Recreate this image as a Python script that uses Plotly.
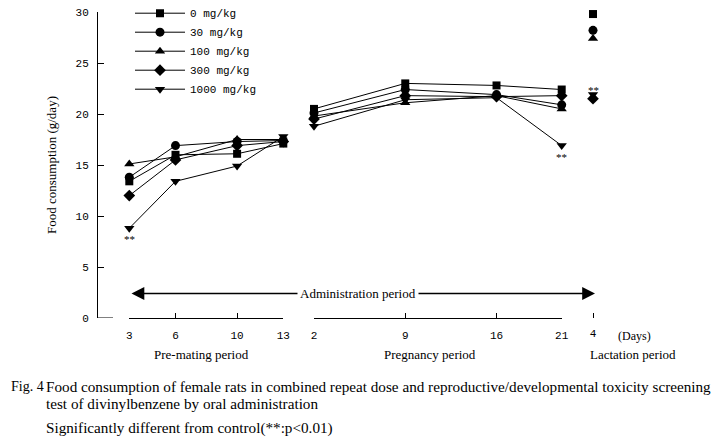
import plotly.graph_objects as go

# ---- data ----
doses = ["0 mg/kg", "30 mg/kg", "100 mg/kg", "300 mg/kg", "1000 mg/kg"]
symbols = ["square", "circle", "triangle-up", "diamond", "triangle-down"]
marker_sizes = [8, 9, 9, 9, 9]

premating_days = [3, 6, 10, 13]
pregnancy_days = [2, 9, 16, 21]
lactation_days = [4]

pre_0 = [13.4, 16.0, 16.1, 17.1]
pre_30 = [13.8, 16.9, 17.3, 17.4]
pre_100 = [15.1, 15.8, 17.5, 17.5]
pre_300 = [12.0, 15.5, 16.9, 17.3]
pre_1000 = [8.8, 13.4, 14.9, 17.8]

preg_0 = [20.5, 23.0, 22.8, 22.4]
preg_30 = [20.1, 22.4, 21.9, 20.9]
preg_100 = [19.8, 21.1, 21.8, 20.5]
preg_300 = [19.5, 21.8, 21.7, 21.8]
preg_1000 = [18.8, 21.4, 21.6, 16.9]

lact_0 = [29.8]
lact_30 = [28.2]
lact_100 = [27.4]
lact_300 = [21.5]
lact_1000 = [21.9]

y_ticks = [0, 5, 10, 15, 20, 25, 30]

pre_series = [pre_0, pre_30, pre_100, pre_300, pre_1000]
preg_series = [preg_0, preg_30, preg_100, preg_300, preg_1000]
lact_series = [lact_0, lact_30, lact_100, lact_300, lact_1000]

# ---- figure geometry (page has an 8px body offset) ----
OFF = 8
W, H = 727, 440
ML, MT = 89, 4
PW, PH = 603, 306
MR = W - ML - PW
MB = H - MT - PH


def px(xs):
    return (xs - OFF - ML) / PW


def py(ys):
    return (MT + PH - (ys - OFF)) / PH


fig = go.Figure()
for i, name in enumerate(doses):
    for xs, ys, ax, show in [
        (premating_days, pre_series[i], "x", True),
        (pregnancy_days, preg_series[i], "x2", False),
        (lactation_days, lact_series[i], "x3", False),
    ]:
        fig.add_trace(go.Scatter(
            x=xs, y=ys, xaxis=ax, yaxis="y",
            mode="lines+markers", name=name, legendgroup=name, showlegend=show,
            line=dict(color="black", width=1),
            marker=dict(symbol=symbols[i], size=marker_sizes[i], color="black"),
            cliponaxis=False,
        ))

mono = "Liberation Mono"
serif = "Liberation Serif"
axis_common = dict(showgrid=False, zeroline=False, color="black", automargin=False,
                   linecolor="black", linewidth=1, ticks="inside", ticklen=5,
                   tickcolor="black", tickwidth=1, ticklabelstandoff=7,
                   ticklabeloverflow="allow",
                   tickfont=dict(family=mono, size=11, color="black"))

fig.update_layout(
    width=W, height=H,
    margin=dict(l=ML, r=MR, t=MT, b=MB, autoexpand=False),
    paper_bgcolor="white", plot_bgcolor="white",
    showlegend=True,
    legend=dict(x=px(130), y=1.0435, xanchor="left", yanchor="top",
                bgcolor="rgba(0,0,0,0)", itemwidth=50,
                font=dict(family=mono, size=11, color="black"),
                tracegroupgap=0),
    xaxis=dict(domain=[px(129.3), px(283.3)], range=[3, 13], anchor="y",
               showline=True, tickvals=premating_days, **axis_common),
    xaxis2=dict(domain=[px(314), px(561.7)], range=[2, 21], anchor="y",
                showline=True, tickvals=pregnancy_days, **axis_common),
    xaxis3=dict(domain=[px(580), px(606)], range=[3, 5], anchor="y",
                showline=False, tickvals=lactation_days, **axis_common),
    yaxis=dict(domain=[0, 1], range=[0, 30], anchor="free", position=0,
               automargin=False, ticklabeloverflow="allow",
               showline=True, showgrid=False, zeroline=False,
               linecolor="black", linewidth=1, ticks="inside", ticklen=6,
               tickcolor="black", tickvals=y_ticks,
               tickfont=dict(family=mono, size=11, color="black"),
               ticklabelstandoff=6,
               title=dict(text="Food consumption (g/day)", standoff=15,
                          font=dict(family=serif, size=13, color="black"))),
)

# short base line at the foot of the y axis
fig.add_shape(type="line", xref="paper", yref="y", x0=0, x1=px(113), y0=0, y1=0,
              line=dict(color="black", width=1))

ann = []
sig_font = dict(family=serif, size=11, color="black")
# significance marks
ann.append(dict(x=premating_days[0], y=pre_1000[0], xref="x", yref="y", text="**",
                showarrow=False, yshift=-11, font=sig_font))
ann.append(dict(x=pregnancy_days[3], y=preg_1000[3], xref="x2", yref="y", text="**",
                showarrow=False, yshift=-11, font=sig_font))
ann.append(dict(x=lactation_days[0], y=lact_1000[0], xref="x3", yref="y", text="**",
                showarrow=False, yshift=5, font=sig_font))

# administration period arrow
ann.append(dict(x=px(595), y=2.4, xref="paper", yref="y", ax=-465, ay=0,
                axref="pixel", ayref="pixel", text="", showarrow=True,
                arrowside="end+start", arrowhead=2, arrowsize=1.6, arrowwidth=1.6,
                arrowcolor="black"))
ann.append(dict(x=px(358), y=2.4, xref="paper", yref="y", text="Administration period",
                showarrow=False, bgcolor="white", borderpad=2,
                xanchor="center", yanchor="middle",
                font=dict(family=serif, size=13, color="black")))

# labels under the axis
ann.append(dict(x=px(634), y=py(336), xref="paper", yref="paper", text="(Days)",
                xanchor="center", yanchor="middle",
                showarrow=False, font=dict(family=serif, size=12, color="black")))
for label, cx in [("Pre-mating period", 201), ("Pregnancy period", 430),
                  ("Lactation period", 633)]:
    ann.append(dict(x=px(cx), y=py(354), xref="paper", yref="paper", text=label,
                    xanchor="center", yanchor="middle",
                    showarrow=False, font=dict(family=serif, size=13, color="black")))

# caption
cap_font = dict(family=serif, size=15.2, color="black")
ann.append(dict(x=px(8.5), y=py(386), xref="paper", yref="paper", text="Fig. 4",
                xanchor="left", yanchor="middle", showarrow=False,
                font=dict(family=serif, size=14, color="black")))
ann.append(dict(x=px(44), y=py(386), xref="paper", yref="paper",
                text="Food consumption of female rats in combined repeat dose and reproductive/developmental toxicity screening",
                xanchor="left", yanchor="middle", showarrow=False, font=cap_font))
ann.append(dict(x=px(44), y=py(404), xref="paper", yref="paper",
                text="test of divinylbenzene by oral administration",
                xanchor="left", yanchor="middle", showarrow=False, font=cap_font))
ann.append(dict(x=px(44), y=py(428), xref="paper", yref="paper",
                text="Significantly different from control(**:p&lt;0.01)",
                xanchor="left", yanchor="middle", showarrow=False, font=cap_font))

fig.update_layout(annotations=ann)
fig.write_html("out.html")
